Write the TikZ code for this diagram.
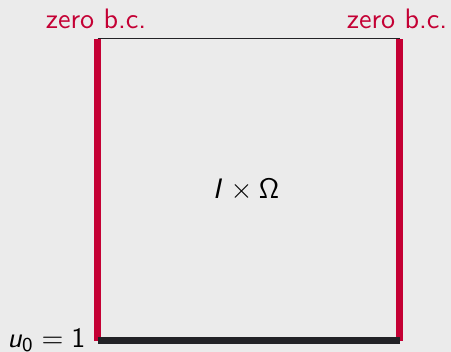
\documentclass[tikz,border=0pt]{standalone}
\DeclareMathAlphabet{\mathsfit}{OT1}{cmss}{m}{sl}
\definecolor{bcred}{RGB}{196,0,52}
\definecolor{bgray}{RGB}{235,235,235}
\definecolor{lineblack}{RGB}{34,34,38}
\tikzset{bcwall/.style={bcred, line width=2.5pt}, lbl/.style={inner sep=0pt, font=\sffamily}}
\begin{document}
\begin{tikzpicture}[x=0.0125cm, y=-0.0125cm]
            \fill[bgray] (0,0) rectangle (451,352); \useasboundingbox (0,0) rectangle (451,352);
            \coordinate (tl) at (97.5,38.5); \coordinate (tr) at (399.5,38.5);
            \coordinate (bl) at (97.5,340.5); \coordinate (br) at (399.5,340.5);
            \draw[lineblack, line width=0.4pt] (tl) -- (tr);
            \draw[bcwall] (bl) -- (tl); \draw[bcwall] (br) -- (tr);
            \draw[lineblack, line width=2.5pt] (bl) -- (br);
            \node[lbl, anchor=base, text=bcred] (zl) at (96,28) {zero b.c.};
            \node[lbl, anchor=base, text=bcred] (zr) at (397,28) {zero b.c.};
            \node[lbl, anchor=base east] (ic) at (86,347) {$\mathsfit{u}_{\mathsf{0}} = \mathsf{1}$};
            \node[lbl, anchor=base] (dom) at (246,198) {$\mathsfit{I} \times \mathsf{\Omega}$};
        \end{tikzpicture}
\end{document}
